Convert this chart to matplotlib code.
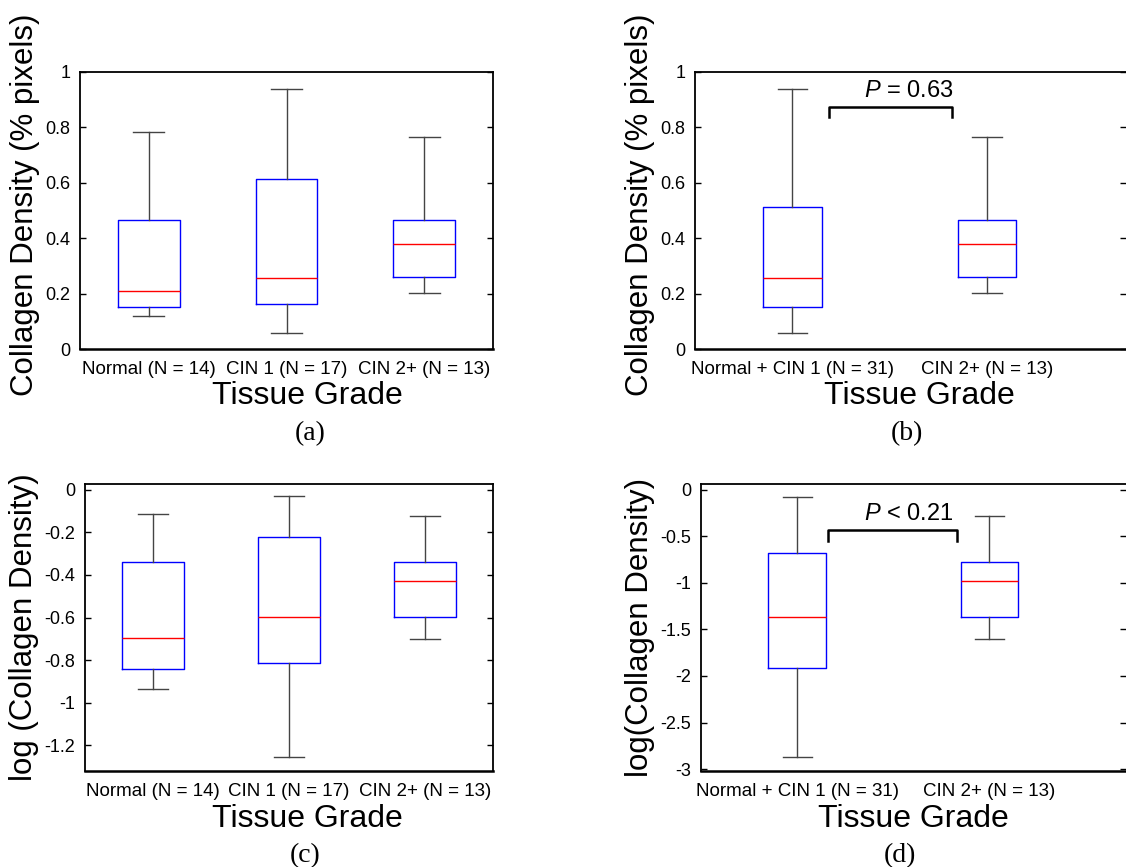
import matplotlib
matplotlib.use("Agg")
import matplotlib.pyplot as plt

plt.rcParams['font.family'] = ['Liberation Sans', 'DejaVu Sans']
plt.rcParams['axes.unicode_minus'] = False
plt.rcParams['mathtext.fontset'] = 'custom'
plt.rcParams['mathtext.it'] = 'Liberation Sans:italic'
plt.rcParams['mathtext.rm'] = 'Liberation Sans'

# ---------------- data ----------------
a_labels = ['Normal (N = 14)', 'CIN 1 (N = 17)', 'CIN 2+ (N = 13)']
a_whislo = [0.118, 0.059, 0.203]
a_q1 = [0.150, 0.161, 0.261]
a_med = [0.210, 0.257, 0.380]
a_q3 = [0.464, 0.614, 0.464]
a_whishi = [0.782, 0.940, 0.764]

b_labels = ['Normal + CIN 1 (N = 31)', 'CIN 2+ (N = 13)']
b_whislo = [0.059, 0.203]
b_q1 = [0.150, 0.261]
b_med = [0.257, 0.380]
b_q3 = [0.513, 0.464]
b_whishi = [0.940, 0.764]
b_pvalue = r'$P$ = 0.63'

c_labels = ['Normal (N = 14)', 'CIN 1 (N = 17)', 'CIN 2+ (N = 13)']
c_whislo = [-0.936, -1.256, -0.700]
c_q1 = [-0.839, -0.811, -0.595]
c_med = [-0.694, -0.595, -0.428]
c_q3 = [-0.339, -0.222, -0.339]
c_whishi = [-0.116, -0.031, -0.123]

d_labels = ['Normal + CIN 1 (N = 31)', 'CIN 2+ (N = 13)']
d_whislo = [-2.875, -1.602]
d_q1 = [-1.920, -1.362]
d_med = [-1.362, -0.980]
d_q3 = [-0.683, -0.776]
d_whishi = [-0.075, -0.282]
d_pvalue = r'$P$ < 0.21'

a_yticks = [0, 0.2, 0.4, 0.6, 0.8, 1]
a_yticklabels = ['0', '0.2', '0.4', '0.6', '0.8', '1']
c_yticks = [0, -0.2, -0.4, -0.6, -0.8, -1, -1.2]
c_yticklabels = ['0', '-0.2', '-0.4', '-0.6', '-0.8', '-1', '-1.2']
d_yticks = [0, -0.5, -1, -1.5, -2, -2.5, -3]
d_yticklabels = ['0', '-0.5', '-1', '-1.5', '-2', '-2.5', '-3']

W, H = 1126, 867
fig = plt.figure(figsize=(W / 100, H / 100), dpi=100)


def add_axes_px(left, top, right, bottom):
    return fig.add_axes([left / W, 1 - bottom / H, (right - left) / W, (bottom - top) / H])


def draw_box(ax, labels, whislo, q1, med, q3, whishi, width):
    stats = []
    for i in range(len(labels)):
        stats.append(dict(label=labels[i], whislo=whislo[i], q1=q1[i], med=med[i],
                          q3=q3[i], whishi=whishi[i], fliers=[]))
    ax.bxp(stats, positions=list(range(1, len(labels) + 1)), widths=width,
           showfliers=False,
           boxprops=dict(color='#0000ff', linewidth=1.0),
           medianprops=dict(color='#ff0000', linewidth=1.0),
           whiskerprops=dict(color='#444444', linewidth=1.0),
           capprops=dict(color='#444444', linewidth=1.0),
           capwidths=width * 0.5)


def style(ax, right_spine=True):
    for s in ax.spines.values():
        s.set_linewidth(1.3)
    ax.spines['bottom'].set_linewidth(1.8)
    if not right_spine:
        ax.spines['right'].set_visible(False)
    ax.tick_params(axis='y', direction='in', length=4, width=1, left=True, right=True,
                   labelsize=13, pad=7)
    ax.tick_params(axis='x', length=0, labelsize=13.5, pad=9)


# (a)
ax_a = add_axes_px(80, 72, 493, 349)
draw_box(ax_a, a_labels, a_whislo, a_q1, a_med, a_q3, a_whishi, 0.45)
ax_a.set_xlim(0.5, 3.5)
ax_a.set_ylim(0, 1)
ax_a.set_yticks(a_yticks)
ax_a.set_yticklabels(a_yticklabels)
style(ax_a)

# (b)
ax_b = add_axes_px(695, 72, 1126, 349)
draw_box(ax_b, b_labels, b_whislo, b_q1, b_med, b_q3, b_whishi, 0.30)
ax_b.set_xlim(0.5, 2.714)
ax_b.set_ylim(0, 1)
ax_b.set_yticks(a_yticks)
ax_b.set_yticklabels(a_yticklabels)
style(ax_b, right_spine=False)
ax_b.plot([1.188, 1.188, 1.818, 1.818], [0.839, 0.875, 0.875, 0.839], color='black',
          linewidth=1.8)
ax_b.text(1.60, 0.93, b_pvalue, ha='center', va='center', fontsize=17)

# (c)
ax_c = add_axes_px(85, 484, 493, 771)
draw_box(ax_c, c_labels, c_whislo, c_q1, c_med, c_q3, c_whishi, 0.45)
ax_c.set_xlim(0.5, 3.5)
ax_c.set_ylim(-1.32, 0.027)
ax_c.set_yticks(c_yticks)
ax_c.set_yticklabels(c_yticklabels)
style(ax_c)

# (d)
ax_d = add_axes_px(701, 484, 1126, 771)
draw_box(ax_d, d_labels, d_whislo, d_q1, d_med, d_q3, d_whishi, 0.30)
ax_d.set_xlim(0.5, 2.71)
ax_d.set_ylim(-3.02, 0.06)
ax_d.set_yticks(d_yticks)
ax_d.set_yticklabels(d_yticklabels)
style(ax_d, right_spine=False)
ax_d.plot([1.16, 1.16, 1.83, 1.83], [-0.551, -0.429, -0.429, -0.551], color='black',
          linewidth=1.8)
ax_d.text(1.58, -0.265, d_pvalue, ha='center', va='center', fontsize=17)

# axis labels (positions in axes fraction)
label_specs = [
    (ax_a, 'Collagen Density (% pixels)', 0.55, -0.097, 0.52),
    (ax_b, 'Collagen Density (% pixels)', 0.52, -0.093, 0.52),
    (ax_c, 'log (Collagen Density)', 0.545, -0.113, 0.5),
    (ax_d, 'log(Collagen Density)', 0.50, -0.108, 0.5),
]
for ax, yl, xlx, ylx, yly in label_specs:
    ax.set_xlabel('Tissue Grade', fontsize=23)
    ax.xaxis.set_label_coords(xlx, -0.115, transform=ax.transAxes)
    ax.xaxis.label.set_va('top')
    ax.set_ylabel(yl, fontsize=22.5)
    ax.yaxis.set_label_coords(ylx, yly, transform=ax.transAxes)

# panel captions
captions = ['(a)', '(b)', '(c)', '(d)']
cap_pos = [(310, 434), (907, 434), (305, 856), (900, 856)]
for t, (x, y) in zip(captions, cap_pos):
    fig.text(x / W, 1 - y / H, t, ha='center', va='center', fontsize=20,
             family=['Liberation Serif', 'DejaVu Serif'])

fig.savefig('out.png', dpi=100)
